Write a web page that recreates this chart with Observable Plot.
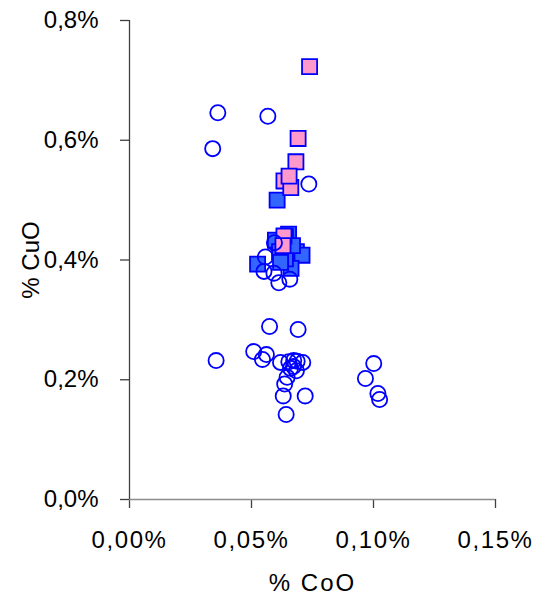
<!DOCTYPE html>
<html>
<head>
<meta charset="utf-8">
<script src="https://cdn.jsdelivr.net/npm/d3@7"></script>
<script src="https://cdn.jsdelivr.net/npm/@observablehq/plot@0.6"></script>
<style>
  html, body { margin: 0; padding: 0; background: #fff; }
  svg { display: block; }
</style>
</head>
<body>
<div id="chart"></div>
<script>
// Values in percent
const xTicks = [0, 0.05, 0.10, 0.15];
const yTicks = [0, 0.2, 0.4, 0.6, 0.8];

// Open circles
const circleX = [0.0362, 0.0567, 0.0341, 0.0735, 0.0594, 0.0557, 0.0551, 0.0592, 0.0612, 0.0657,
                 0.0574, 0.0691, 0.0355, 0.0509, 0.0561, 0.0545, 0.0619, 0.0653, 0.0673, 0.0687,
                 0.0710, 0.0660, 0.0684, 0.0672, 0.0646, 0.0636, 0.0630, 0.0720, 0.0642,
                 0.1001, 0.0967, 0.1018, 0.1025];
const circleY = [0.646, 0.640, 0.586, 0.527, 0.429, 0.405, 0.381, 0.378, 0.362, 0.368,
                 0.289, 0.284, 0.232, 0.247, 0.242, 0.234, 0.229, 0.230, 0.232, 0.231,
                 0.229, 0.219, 0.215, 0.222, 0.204, 0.193, 0.173, 0.173, 0.142,
                 0.227, 0.202, 0.177, 0.167];

// Blue filled squares
const blueX = [0.0605, 0.0525, 0.0652, 0.0639, 0.0598, 0.0615, 0.0684, 0.0707, 0.0662, 0.0639, 0.0668, 0.0619];
const blueY = [0.500, 0.393, 0.443, 0.439, 0.433, 0.414, 0.414, 0.408, 0.386, 0.402, 0.424, 0.396];

// Pink filled squares
const pinkX = [0.0738, 0.0691, 0.0682, 0.0633, 0.0661, 0.0654, 0.0633, 0.0629];
const pinkY = [0.723, 0.603, 0.564, 0.532, 0.521, 0.540, 0.440, 0.424];

const xLabel = "% CoO";
const yLabel = "% CuO";

const circles = circleX.map((x, i) => ({x, y: circleY[i]}));
const blues = blueX.map((x, i) => ({x, y: blueY[i]}));
const pinks = pinkX.map((x, i) => ({x, y: pinkY[i]}));

const fmtX = d => d.toFixed(2).replace(".", ",") + "%";
const fmtY = d => d.toFixed(1).replace(".", ",") + "%";

const chart = Plot.plot({
  width: 537,
  height: 595,
  marginLeft: 129,
  marginRight: 42,
  marginTop: 20,
  marginBottom: 96,
  style: {fontFamily: "'Liberation Sans', Arial, sans-serif", fontSize: "24px", background: "#fff", color: "#000"},
  x: {domain: [0, 0.15]},
  y: {domain: [0, 0.8]},
  marks: [
    Plot.axisX({ticks: xTicks, tickFormat: fmtX, tickSize: 9, tickPadding: 22, stroke: "#404040", strokeWidth: 1.3, label: null, fill: "#000", fontSize: 24}),
    Plot.axisY({ticks: yTicks, tickFormat: fmtY, tickSize: 9, tickPadding: 22, stroke: "#404040", strokeWidth: 1.3, label: null, fill: "#000", fontSize: 24}),
    Plot.ruleY([0], {stroke: "#8c8c8c", strokeWidth: 1.5}),
    Plot.ruleX([0], {stroke: "#404040", strokeWidth: 1.3}),
    Plot.dot(blues, {x: "x", y: "y", symbol: "square", r: 8.5, fill: "#3366ff", stroke: "#0000ff", strokeWidth: 1.8}),
    Plot.dot(pinks, {x: "x", y: "y", symbol: "square", r: 8.5, fill: "#ff99cc", stroke: "#0000ff", strokeWidth: 1.8}),
    Plot.dot(circles, {x: "x", y: "y", symbol: "circle", r: 7.6, fill: "none", stroke: "#0000ff", strokeWidth: 1.8}),
    Plot.text([xLabel], {frameAnchor: "bottom", lineAnchor: "middle", textAnchor: "middle", dy: 84, fontSize: 24, fill: "#000"}),
    Plot.text([yLabel], {frameAnchor: "left", lineAnchor: "middle", textAnchor: "middle", dx: -98, rotate: -90, fontSize: 24, fill: "#000"})
  ]
});
// Reference's horizontal bottom text is slightly wider
chart.querySelectorAll('g[aria-label="x-axis tick label"] text').forEach(t => t.setAttribute("letter-spacing", "1.6"));
const texts = chart.querySelectorAll('g[aria-label="text"] text');
texts.forEach(t => { if (t.textContent === xLabel) t.setAttribute("letter-spacing", "2"); });
document.getElementById("chart").appendChild(chart);
</script>
</body>
</html>
